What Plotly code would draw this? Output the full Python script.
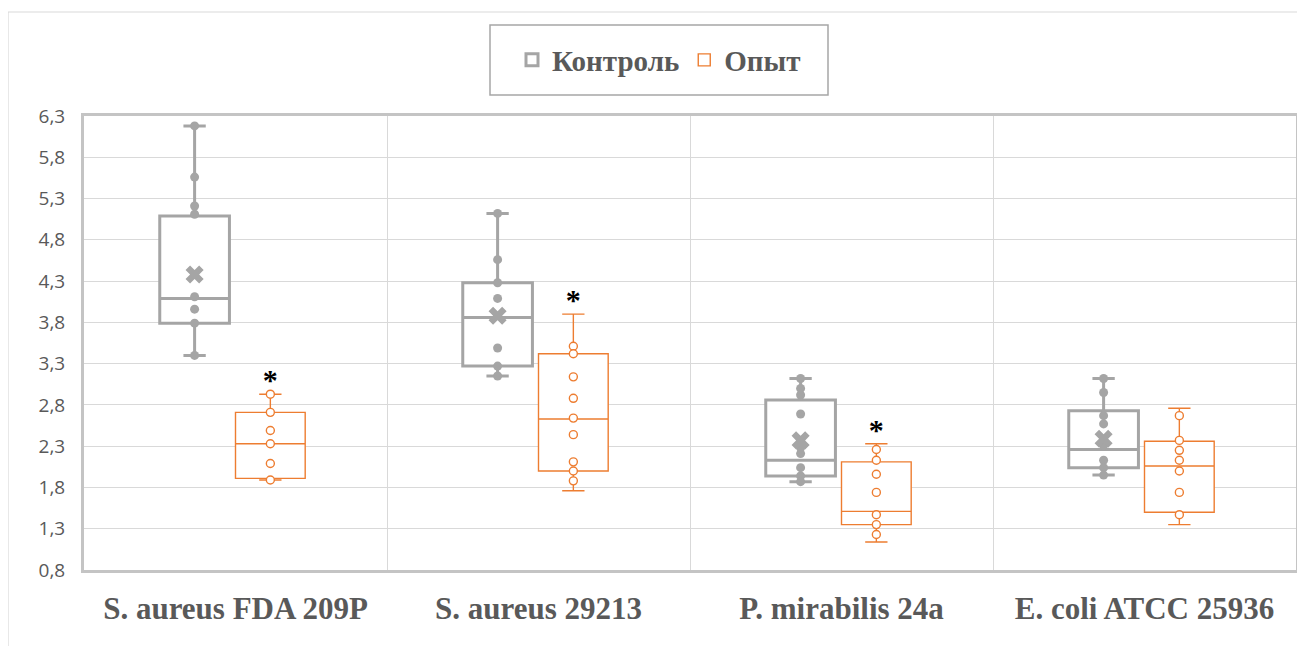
import plotly.graph_objects as go

categories = ["S. aureus FDA 209P", "S. aureus 29213", "P. mirabilis 24a", "E. coli ATCC 25936"]
series_names = ["Контроль", "Опыт"]

# Control (Контроль) box statistics
ctrl_upper = [6.18, 5.12, 3.12, 3.12]
ctrl_q3 = [5.09, 4.28, 2.86, 2.73]
ctrl_median = [4.09, 3.86, 2.13, 2.26]
ctrl_q1 = [3.79, 3.27, 1.94, 2.04]
ctrl_lower = [3.40, 3.15, 1.87, 1.95]
ctrl_mean = [4.38, 3.88, 2.37, 2.39]
ctrl_points = [
    [6.18, 5.56, 5.21, 5.11, 4.11, 3.96, 3.79, 3.40],
    [5.12, 4.56, 4.28, 4.09, 3.49, 3.27, 3.15],
    [3.12, 3.00, 2.92, 2.69, 2.28, 2.21, 2.04, 1.94, 1.87],
    [3.12, 2.95, 2.67, 2.57, 2.31, 2.13, 2.04, 1.95],
]

# Experiment (Опыт) box statistics
exp_upper = [2.93, 3.90, 2.33, 2.76]
exp_q3 = [2.71, 3.42, 2.11, 2.36]
exp_median = [2.33, 2.63, 1.51, 2.06]
exp_q1 = [1.91, 2.00, 1.35, 1.50]
exp_lower = [1.89, 1.76, 1.14, 1.35]
exp_points = [
    [2.93, 2.71, 2.49, 2.33, 2.09, 1.89],
    [3.51, 3.42, 3.14, 2.88, 2.64, 2.44, 2.11, 2.00, 1.88],
    [2.26, 2.13, 1.96, 1.74, 1.47, 1.35, 1.23],
    [2.67, 2.37, 2.25, 2.13, 2.00, 1.74, 1.47],
]
significant = [True, True, True, False]

y_ticks = [0.8, 1.3, 1.8, 2.3, 2.8, 3.3, 3.8, 4.3, 4.8, 5.3, 5.8, 6.3]

GRAY = "#A5A5A5"
ORANGE = "#ED7D31"
TXT = "#595959"
CTRL_OFF = -0.135
EXP_OFF = 0.115

fig = go.Figure()
n = len(categories)
ctrl_x = [i + CTRL_OFF for i in range(n)]
exp_x = [i + EXP_OFF for i in range(n)]

fig.add_trace(go.Box(
    name=series_names[0], x=ctrl_x, q1=ctrl_q1, median=ctrl_median, q3=ctrl_q3,
    lowerfence=ctrl_lower, upperfence=ctrl_upper, width=0.23, whiskerwidth=0.32,
    line=dict(color=GRAY, width=3), fillcolor="white", boxpoints=False,
    hoverinfo="skip",
))
fig.add_trace(go.Box(
    name=series_names[1], x=exp_x, q1=exp_q1, median=exp_median, q3=exp_q3,
    lowerfence=exp_lower, upperfence=exp_upper, width=0.23, whiskerwidth=0.32,
    line=dict(color=ORANGE, width=1.4), fillcolor="white", boxpoints=False,
    hoverinfo="skip",
))

# inner points
px, py = [], []
for i, pts in enumerate(ctrl_points):
    px += [ctrl_x[i]] * len(pts)
    py += pts
fig.add_trace(go.Scatter(x=px, y=py, mode="markers", showlegend=False,
                         marker=dict(color=GRAY, size=9), hoverinfo="skip"))
px, py = [], []
for i, pts in enumerate(exp_points):
    px += [exp_x[i]] * len(pts)
    py += pts
fig.add_trace(go.Scatter(x=px, y=py, mode="markers", showlegend=False,
                         marker=dict(color="white", size=8, line=dict(color=ORANGE, width=1.4)),
                         hoverinfo="skip"))
# means
fig.add_trace(go.Scatter(x=ctrl_x, y=ctrl_mean, mode="markers", showlegend=False,
                         marker=dict(color=GRAY, size=16, symbol="x"), hoverinfo="skip"))

# significance stars
sx = [exp_x[i] for i in range(n) if significant[i]]
sy = [exp_upper[i] + 0.14 for i in range(n) if significant[i]]
fig.add_trace(go.Scatter(x=sx, y=sy, mode="text", text=["*"] * len(sx), showlegend=False,
                         textfont=dict(family="Liberation Serif", size=30, color="black", weight="bold"),
                         textposition="middle center", hoverinfo="skip"))

# the page body adds an 8px offset; margins are reduced to compensate
SHIFT = 8
W, H = 1305, 646
L, R, T, B = 84 - SHIFT, 9 + SHIFT, 116 - SHIFT, 76 + SHIFT
pw, ph = W - L - R, H - T - B

def px2x(p):
    return (p - SHIFT - L) / pw

def px2y(p):
    return 1 + (T - (p - SHIFT)) / ph

fig.update_layout(
    width=W, height=H,
    margin=dict(l=L, r=R, t=T, b=B),
    paper_bgcolor="white", plot_bgcolor="white",
    separators=", ",
    showlegend=True,
    legend=dict(orientation="h", x=px2x(659), y=px2y(60), xanchor="center", yanchor="middle",
                font=dict(family="Liberation Serif", size=29, color=TXT, weight="bold"),
                bgcolor="rgba(0,0,0,0)", borderwidth=0, itemclick=False),
    shapes=[
        dict(type="rect", xref="paper", yref="paper", x0=px2x(490), x1=px2x(828),
             y0=px2y(95), y1=px2y(25), line=dict(color="#A6A6A6", width=1.5)),
        dict(type="line", xref="paper", yref="paper", x0=px2x(8), x1=px2x(1320),
             y0=px2y(12), y1=px2y(12), line=dict(color="#D9D9D9", width=1.2)),
        dict(type="line", xref="paper", yref="paper", x0=px2x(8), x1=px2x(8),
             y0=px2y(12), y1=px2y(660), line=dict(color="#D9D9D9", width=1.2)),
    ],
    xaxis=dict(range=[-0.5, n - 0.5], tickmode="array", tickvals=list(range(n)), ticktext=categories,
               showgrid=False, zeroline=False, showline=True, mirror=True, linecolor="#C4C4C4", linewidth=3,
               ticks="", ticklabelstandoff=9,
               tickfont=dict(family="Liberation Serif", size=31, color=TXT, weight="bold"),
               minor=dict(tickmode="array", tickvals=[i + 0.5 for i in range(n - 1)], showgrid=True,
                          gridcolor="#D9D9D9", gridwidth=1, ticks="")),
    yaxis=dict(range=[0.8, 6.3], tickmode="array", tickvals=y_ticks, tickformat=".1f",
               showgrid=True, gridcolor="#D9D9D9", gridwidth=1, zeroline=False,
               showline=True, mirror=True, linecolor="#C4C4C4", linewidth=3, ticks="",
               ticklabelstandoff=12,
               tickfont=dict(family="Open Sans", size=19, color=TXT)),
)

fig.write_html("out.html")
